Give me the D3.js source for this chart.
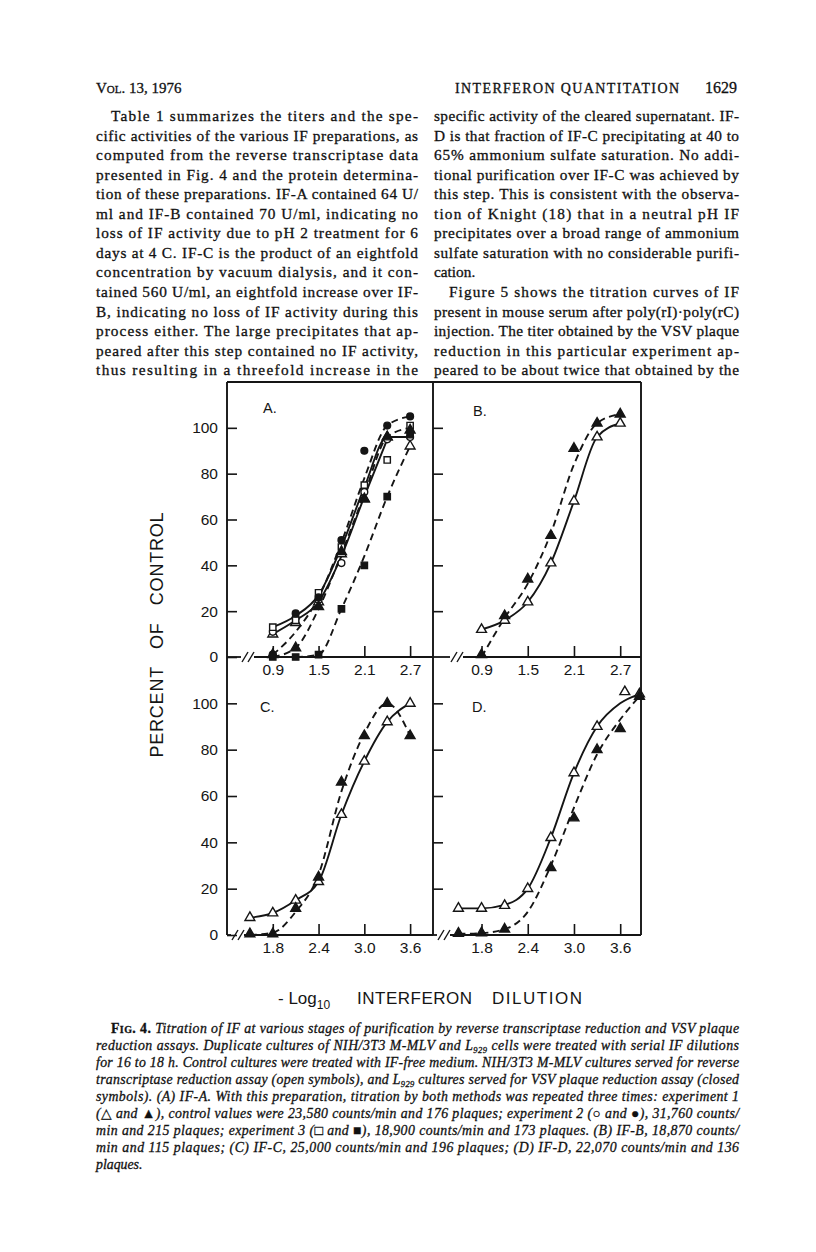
<!DOCTYPE html>
<html>
<head>
<meta charset="utf-8">
<script src="https://cdn.jsdelivr.net/npm/d3@7/dist/d3.min.js"></script>
<style>
  body { margin: 0; background: #fff; }
  svg { display: block; }
  .serif { font-family: 'Liberation Serif', 'DejaVu Serif', serif; fill: #111; stroke: #111; stroke-width: 0.3px; }
  .sans { font-family: 'Liberation Sans', Arial, sans-serif; fill: #151515; }
</style>
</head>
<body>
<svg id="page"></svg>
<script>
// PAGE TEXT
var leftLines = [
    'Table 1 summarizes the titers and the spe-',
    'cific activities of the various IF preparations, as',
    'computed from the reverse transcriptase data',
    'presented in Fig. 4 and the protein determina-',
    'tion of these preparations. IF-A contained 64 U/',
    'ml and IF-B contained 70 U/ml, indicating no',
    'loss of IF activity due to pH 2 treatment for 6',
    'days at 4 C. IF-C is the product of an eightfold',
    'concentration by vacuum dialysis, and it con-',
    'tained 560 U/ml, an eightfold increase over IF-',
    'B, indicating no loss of IF activity during this',
    'process either. The large precipitates that ap-',
    'peared after this step contained no IF activity,',
    'thus resulting in a threefold increase in the'
];
var rightLines = [
    'specific activity of the cleared supernatant. IF-',
    'D is that fraction of IF-C precipitating at 40 to',
    '65% ammonium sulfate saturation. No addi-',
    'tional purification over IF-C was achieved by',
    'this step. This is consistent with the observa-',
    'tion of Knight (18) that in a neutral pH IF',
    'precipitates over a broad range of ammonium',
    'sulfate saturation with no considerable purifi-',
    'cation.',
    'Figure 5 shows the titration curves of IF',
    'present in mouse serum after poly(rI)\u00b7poly(rC)',
    'injection. The titer obtained by the VSV plaque',
    'reduction in this particular experiment ap-',
    'peared to be about twice that obtained by the'
];
var captionLines = [
    [['Fig. 4. ', 'b'], ['Titration of IF at various stages of purification by reverse transcriptase reduction and VSV plaque', 'i']],
    [['reduction assays. Duplicate cultures of NIH/3T3 M-MLV and L', 'i'], ['929', 'sub'], [' cells were treated with serial IF dilutions', 'i']],
    [['for 16 to 18 h. Control cultures were treated with IF-free medium. NIH/3T3 M-MLV cultures served for reverse', 'i']],
    [['transcriptase reduction assay (open symbols), and L', 'i'], ['929', 'sub'], [' cultures served for VSV plaque reduction assay (closed', 'i']],
    [['symbols). (A) IF-A. With this preparation, titration by both methods was repeated three times: experiment 1', 'i']],
    [['(\u25b3 and \u25b2), control values were 23,580 counts/min and 176 plaques; experiment 2 (\u25cb and \u25cf), 31,760 counts/', 'i']],
    [['min and 215 plaques; experiment 3 (\u25a1 and \u25a0), 18,900 counts/min and 173 plaques. (B) IF-B, 18,870 counts/', 'i']],
    [['min and 115 plaques; (C) IF-C, 25,000 counts/min and 196 plaques; (D) IF-D, 22,070 counts/min and 136', 'i']],
    [['plaques.', 'i']]
];

// AXES
var yTicks = [0, 20, 40, 60, 80, 100];
var xTicksTop = [0.9, 1.5, 2.1, 2.7];
var xTicksBottom = [1.8, 2.4, 3.0, 3.6];

// PANEL A - three experiments, [-log10 dilution, percent of control]
var aOpenTri = [[0.9, 10], [1.2, 15], [1.5, 24], [1.8, 45], [2.1, 69], [2.4, 96], [2.7, 92]];
var aOpenCirc = [[0.9, 11], [1.2, 17], [1.5, 25], [1.8, 41], [2.1, 72], [2.4, 95], [2.7, 96]];
var aOpenSq = [[0.9, 13], [1.2, 16], [1.5, 28], [1.8, 48], [2.1, 75], [2.4, 86], [2.7, 101]];
var aClosedTri = [[0.9, 1], [1.2, 4], [1.5, 22], [1.8, 46], [2.1, 69], [2.4, 96], [2.7, 99]];
var aClosedCirc = [[0.9, 1], [1.2, 19], [1.5, 26], [1.8, 51], [2.1, 90], [2.4, 101], [2.7, 105]];
var aClosedSq = [[0.9, 0], [1.2, 0], [1.5, 1], [1.8, 21], [2.1, 40], [2.4, 70], [2.7, 97]];
// hand drawn fits in A
var aSolid1 = [[0.9, 13], [1.2, 18], [1.5, 27], [1.8, 48], [2.1, 74], [2.4, 96], [2.7, 96]];
var aSolid2 = [[0.9, 10], [1.2, 16], [1.5, 24], [1.8, 44], [2.1, 70], [2.4, 95]];
var aDash1 = [[0.9, 1], [1.2, 11], [1.5, 26], [1.8, 50], [2.1, 78], [2.4, 101], [2.7, 105]];
var aDash2 = [[0.9, 0], [1.2, 4], [1.5, 21], [1.8, 45], [2.1, 71], [2.4, 96], [2.7, 100]];
var aDash3 = [[0.9, 0], [1.2, 0], [1.5, 1], [1.8, 21], [2.1, 44], [2.4, 70], [2.7, 92]];

// PANEL B
var bOpen = [[0.9, 12], [1.2, 16], [1.5, 24], [1.8, 41], [2.1, 68], [2.4, 96], [2.7, 102]];
var bClosed = [[0.9, 1], [1.2, 18], [1.5, 34], [1.8, 53], [2.1, 91], [2.4, 102], [2.7, 106]];
var bDash = [[0.9, 0], [1.2, 17], [1.5, 32], [1.8, 54], [2.1, 84], [2.4, 102], [2.7, 106]];

// PANEL C
var cOpen = [[1.5, 7.5], [1.8, 9.5], [2.1, 15], [2.4, 23], [2.7, 52], [3.0, 75], [3.3, 92], [3.6, 100]];
var cClosed = [[1.5, 0.5], [1.8, 0.5], [2.1, 11.5], [2.4, 25], [2.7, 66], [3.0, 86], [3.3, 100], [3.6, 86]];
var cDash = [[1.5, 0], [1.8, 1], [2.1, 10], [2.4, 26], [2.7, 62], [3.0, 87], [3.3, 100], [3.6, 86]];

// PANEL D
var dOpen = [[1.5, 11.5], [1.8, 11.5], [2.1, 12.7], [2.4, 20], [2.7, 42], [3.0, 70], [3.3, 90], [3.66, 105], [3.85, 104]];
var dClosed = [[1.5, 0.7], [1.8, 0.9], [2.1, 2.5], [2.7, 29], [3.0, 50.5], [3.3, 80], [3.6, 89], [3.85, 103]];
var dSolid = [[1.5, 11.5], [1.8, 11.5], [2.1, 13], [2.4, 20], [2.7, 42], [3.0, 70], [3.3, 90], [3.6, 100], [3.85, 104]];
var dDash = [[1.5, 0.5], [1.8, 0.8], [2.1, 2.5], [2.4, 10], [2.7, 30], [3.0, 55], [3.3, 78], [3.6, 93], [3.85, 103]];


//SVG SETUP
var svg = d3.select('#page')
    .attr('width', 816)
    .attr('height', 1252);

//HEADER
svg.append('text')
    .attr('class', 'serif')
    .attr('x', 96).attr('y', 93)
    .style('font-size', '15px')
    .style('font-variant', 'small-caps')
    .text('Vol. 13, 1976');

svg.append('text')
    .attr('class', 'serif')
    .attr('x', 455).attr('y', 93)
    .style('font-size', '14px')
    .attr('textLength', 224)
    .attr('lengthAdjust', 'spacing')
    .text('INTERFERON QUANTITATION');

svg.append('text')
    .attr('class', 'serif')
    .attr('x', 737).attr('y', 93)
    .attr('text-anchor', 'end')
    .style('font-size', '16px')
    .text('1629');

//BODY COLUMNS
function column(lines, x0, x1, indents, ragged) {
    lines.forEach(function(line, i) {
        var x = indents.indexOf(i) >= 0 ? x0 + 15 : x0;
        var t = svg.append('text')
            .attr('class', 'serif')
            .attr('x', x)
            .attr('y', 121 + i * 19.55)
            .style('font-size', '15.3px')
            .text(line);
        if (ragged.indexOf(i) < 0) {
            t.attr('textLength', x1 - x).attr('lengthAdjust', 'spacing');
        }
    });
}
column(leftLines, 96, 418, [0], []);
column(rightLines, 434, 739, [9], [8]);

//FIGURE
var X0 = 227, XM = 433, X1 = 641,
    Y0 = 382, YM = 657, Y1 = 935;

var fig = svg.append('g');

var panels = [
    { name: 'A.', x0: X0, x1: XM, y0: Y0, y1: YM, dom: [0.3, 3.0], ticks: xTicksTop, lab: [263, 413],
      brk: [241, 245, 251, 254], leftAxis: true,
      curves: [[aSolid1, 0], [aSolid2, 0], [aDash1, 1], [aDash2, 1], [aDash3, 1]],
      points: [[aOpenTri, 'tri', 0], [aOpenCirc, 'circ', 0], [aOpenSq, 'sq', 0],
               [aClosedTri, 'tri', 1], [aClosedCirc, 'circ', 1], [aClosedSq, 'sq', 1]] },
    { name: 'B.', x0: XM, x1: X1, y0: Y0, y1: YM, dom: [0.27, 2.97], ticks: xTicksTop, lab: [473, 416],
      brk: [450, 454, 460, 463], leftAxis: false,
      curves: [[bOpen, 0], [bDash, 1]],
      points: [[bOpen, 'tri', 0], [bClosed, 'tri', 1]] },
    { name: 'C.', x0: X0, x1: XM, y0: YM, y1: Y1, dom: [1.2, 3.9], ticks: xTicksBottom, lab: [260, 712],
      brk: [231, 235, 241, 244], leftAxis: true,
      curves: [[cOpen, 0], [cDash, 1]],
      points: [[cOpen, 'tri', 0], [cClosed, 'tri', 1]] },
    { name: 'D.', x0: XM, x1: X1, y0: YM, y1: Y1, dom: [1.17, 3.87], ticks: xTicksBottom, lab: [472, 712],
      brk: [437, 441, 447, 450], leftAxis: false,
      curves: [[dSolid, 0], [dDash, 1]],
      points: [[dOpen, 'tri', 0], [dClosed, 'tri', 1]] }
];

var symbolTypes = { tri: d3.symbolTriangle, circ: d3.symbolCircle, sq: d3.symbolSquare };
var symbolSizes = { tri: 42, circ: 36, sq: 40 };

panels.forEach(function(p) {
    var x = d3.scaleLinear().domain(p.dom).range([p.x0, p.x1]);
    var y = d3.scaleLinear().domain([0, 120]).range([p.y1, p.y0]);
    var g = fig.append('g');

    // y axis
    if (p.leftAxis) {
        g.append('g')
            .attr('class', 'sans')
            .attr('transform', 'translate(' + p.x0 + ',0)')
            .call(d3.axisLeft(y).tickValues(yTicks).tickSize(-10).tickPadding(9).tickFormat(d3.format('d')))
            .call(function(a) {
                a.select('.domain').remove();
                a.selectAll('line').attr('stroke', '#151515').attr('stroke-width', 1.6);
                a.selectAll('text').attr('fill', '#151515')
                    .style('font-family', "'Liberation Sans', Arial, sans-serif")
                    .style('font-size', '15.5px');
            });
    } else {
        g.append('g')
            .attr('transform', 'translate(' + p.x0 + ',0)')
            .call(d3.axisRight(y).tickValues(yTicks.slice(1)).tickSize(10).tickFormat(''))
            .call(function(a) {
                a.select('.domain').remove();
                a.selectAll('line').attr('stroke', '#151515').attr('stroke-width', 1.6);
            });
    }

    // x axis
    g.append('g')
        .attr('transform', 'translate(0,' + p.y1 + ')')
        .call(d3.axisBottom(x).tickValues(p.ticks).tickSize(-11).tickPadding(7).tickFormat(d3.format('.1f')))
        .call(function(a) {
            a.select('.domain').remove();
            a.selectAll('line').attr('stroke', '#151515').attr('stroke-width', 1.6);
            a.selectAll('text').attr('fill', '#151515')
                .style('font-family', "'Liberation Sans', Arial, sans-serif")
                .style('font-size', '15.5px');
        });

    // axis line with break marks
    g.append('line').attr('x1', p.x0).attr('x2', p.brk[0]).attr('y1', p.y1).attr('y2', p.y1)
        .attr('stroke', '#151515').attr('stroke-width', 1.8);
    g.append('line').attr('x1', p.brk[3]).attr('x2', p.x1).attr('y1', p.y1).attr('y2', p.y1)
        .attr('stroke', '#151515').attr('stroke-width', 1.8);
    [p.brk[1], p.brk[2]].forEach(function(bx) {
        g.append('line').attr('x1', bx - 3).attr('x2', bx + 3)
            .attr('y1', p.y1 + 5).attr('y2', p.y1 - 5)
            .attr('stroke', '#151515').attr('stroke-width', 1.4);
    });

    // panel letter
    g.append('text').attr('class', 'sans')
        .attr('x', p.lab[0]).attr('y', p.lab[1])
        .style('font-size', '14.5px')
        .text(p.name);

    // curves
    var line = d3.line()
        .x(function(d) { return x(d[0]); })
        .y(function(d) { return y(d[1]); })
        .curve(d3.curveMonotoneX);

    p.curves.forEach(function(c) {
        g.append('path')
            .attr('d', line(c[0]))
            .attr('fill', 'none')
            .attr('stroke', '#151515')
            .attr('stroke-width', 1.9)
            .attr('stroke-dasharray', c[1] ? '7,4.5' : null);
    });

    // points, open then closed
    p.points.forEach(function(s) {
        g.selectAll(null)
            .data(s[0])
            .enter()
            .append('path')
            .attr('transform', function(d) { return 'translate(' + x(d[0]) + ',' + y(d[1]) + ')'; })
            .attr('d', d3.symbol().type(symbolTypes[s[1]]).size(symbolSizes[s[1]]))
            .attr('fill', s[2] ? '#151515' : '#fff')
            .attr('stroke', '#151515')
            .attr('stroke-width', 1.4);
    });
});

// frame
var frame = [[X0, Y0, X1, Y0], [X0, Y0, X0, Y1], [XM, Y0, XM, Y1], [X1, Y0, X1, Y1]];
frame.forEach(function(f) {
    fig.append('line')
        .attr('x1', f[0]).attr('y1', f[1]).attr('x2', f[2]).attr('y2', f[3])
        .attr('stroke', '#151515').attr('stroke-width', 1.9);
});

// axis titles
fig.append('text')
    .attr('class', 'sans')
    .attr('transform', 'translate(163,635) rotate(-90)')
    .attr('text-anchor', 'middle')
    .style('font-size', '18px')
    .style('white-space', 'pre')
    .attr('textLength', 245)
    .attr('lengthAdjust', 'spacing')
    .text('PERCENT   OF   CONTROL');

var xt = fig.append('text')
    .attr('class', 'sans')
    .attr('x', 278).attr('y', 1004)
    .style('font-size', '17px')
    .style('white-space', 'pre');
xt.append('tspan').text('- Log');
xt.append('tspan').attr('dy', 5).style('font-size', '12px').text('10');
fig.append('text').attr('class', 'sans')
    .attr('x', 357).attr('y', 1004)
    .style('font-size', '17px')
    .attr('textLength', 115).attr('lengthAdjust', 'spacing')
    .text('INTERFERON');
fig.append('text').attr('class', 'sans')
    .attr('x', 492).attr('y', 1004)
    .style('font-size', '17px')
    .attr('textLength', 90).attr('lengthAdjust', 'spacing')
    .text('DILUTION');

//CAPTION
captionLines.forEach(function(segs, i) {
    var x = i === 0 ? 111 : 96;
    var t = svg.append('text')
        .attr('class', 'serif')
        .attr('x', x)
        .attr('y', 1033 + i * 17)
        .style('font-size', '13.8px')
        .style('white-space', 'pre');
    segs.forEach(function(s, k) {
        var ts = t.append('tspan').text(s[0]);
        if (s[1] === 'b') {
            ts.style('font-weight', 'bold').style('font-variant', 'small-caps');
        } else if (s[1] === 'sub') {
            ts.style('font-style', 'italic').style('font-size', '8.5px').attr('dy', 3);
        } else {
            ts.style('font-style', 'italic');
            if (k > 0 && segs[k - 1][1] === 'sub') ts.attr('dy', -3);
        }
    });
    if (i < captionLines.length - 1) {
        t.attr('textLength', 739 - x).attr('lengthAdjust', 'spacing');
    }
});
</script>
</body>
</html>
